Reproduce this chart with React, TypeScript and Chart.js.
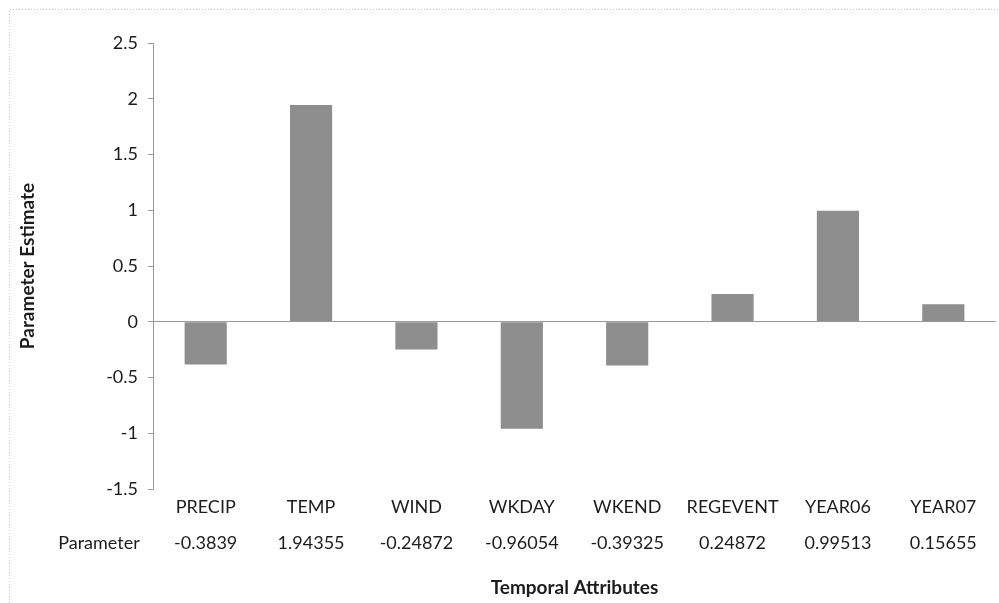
import { useEffect, useRef } from "react";
import { Chart, registerables } from "chart.js";

Chart.register(...registerables);

// Temporal attributes and their parameter estimates
const categories = ["PRECIP", "TEMP", "WIND", "WKDAY", "WKEND", "REGEVENT", "YEAR06", "YEAR07"];
const parameterValues = [-0.3839, 1.94355, -0.24872, -0.96054, -0.39325, 0.24872, 0.99513, 0.15655];
const seriesName = "Parameter";
const yTicks = [-1.5, -1, -0.5, 0, 0.5, 1, 1.5, 2, 2.5];
const yTitle = "Parameter Estimate";
const xTitle = "Temporal Attributes";

const FONT = "Lato, 'Open Sans', sans-serif";
const TEXT = "#1c1c1c";
const AXIS = "#9a9a9a";
const BAR = "#8e8e8e";

// Faint dotted frame along the top and left of the chart
const framePlugin = {
  id: "frame",
  beforeDraw(chart: any) {
    const { ctx } = chart;
    ctx.save();
    ctx.strokeStyle = "#c4c4c4";
    ctx.lineWidth = 1;
    ctx.setLineDash([1, 2]);
    ctx.beginPath();
    ctx.moveTo(9.5, chart.height);
    ctx.lineTo(9.5, 9.5);
    ctx.lineTo(chart.width, 9.5);
    ctx.stroke();
    ctx.restore();
  },
};

// Category row, value row and axis title under the plot
const dataTablePlugin = {
  id: "dataTable",
  afterDraw(chart: any) {
    const { ctx, chartArea } = chart;
    const xs = chart.scales.x;
    const rowCat = chartArea.bottom + 18;
    const rowVal = chartArea.bottom + 54;
    const rowTitle = chartArea.bottom + 99;
    ctx.save();
    ctx.fillStyle = TEXT;
    ctx.textAlign = "center";
    ctx.textBaseline = "middle";
    ctx.font = `18px ${FONT}`;
    categories.forEach((c, i) => {
      const x = xs.getPixelForValue(i);
      ctx.fillText(c, x, rowCat);
      ctx.fillText(String(parameterValues[i]), x, rowVal);
    });
    ctx.fillText(seriesName, 99, rowVal);
    ctx.font = `bold 19px ${FONT}`;
    ctx.fillText(xTitle, (chartArea.left + chartArea.right) / 2, rowTitle);
    ctx.restore();
  },
};

export default function App() {
  const canvasRef = useRef<HTMLCanvasElement | null>(null);

  useEffect(() => {
    const canvas = canvasRef.current;
    if (!canvas) return;
    const chart = new Chart(canvas, {
      type: "bar",
      data: {
        labels: categories,
        datasets: [
          {
            label: seriesName,
            data: parameterValues,
            backgroundColor: BAR,
            borderWidth: 0,
            categoryPercentage: 1,
            barPercentage: 0.4,
          },
        ],
      },
      options: {
        responsive: false,
        animation: false,
        devicePixelRatio: 1,
        layout: { padding: { top: 43, right: 3, bottom: 114, left: 0 } },
        plugins: {
          legend: { display: false },
          tooltip: { enabled: false },
        },
        scales: {
          x: {
            display: false,
            offset: true,
          },
          y: {
            min: -1.5,
            max: 2.5,
            afterBuildTicks: (scale: any) => {
              scale.ticks = yTicks.map((v) => ({ value: v }));
            },
            afterFit: (scale: any) => {
              scale.width = 153;
            },
            border: { display: true, color: AXIS, width: 1 },
            grid: {
              drawOnChartArea: true,
              color: (ctx: any) => (ctx.tick && ctx.tick.value === 0 ? AXIS : "rgba(0,0,0,0)"),
              tickColor: AXIS,
              tickLength: 5,
              lineWidth: 1,
            },
            ticks: {
              color: TEXT,
              font: { family: FONT, size: 18 },
              padding: 10,
              callback: (v: any) => String(v),
            },
            title: {
              display: true,
              text: yTitle,
              color: TEXT,
              font: { family: FONT, size: 19, weight: "bold" },
              padding: { top: 16, bottom: 0 },
            },
          },
        },
      },
      plugins: [framePlugin, dataTablePlugin],
    });
    return () => chart.destroy();
  }, []);

  return (
    <div style={{ position: "absolute", left: 0, top: 0, width: 999, height: 603, background: "#fff" }}>
      <canvas ref={canvasRef} width={999} height={603} style={{ display: "block" }} />
    </div>
  );
}
